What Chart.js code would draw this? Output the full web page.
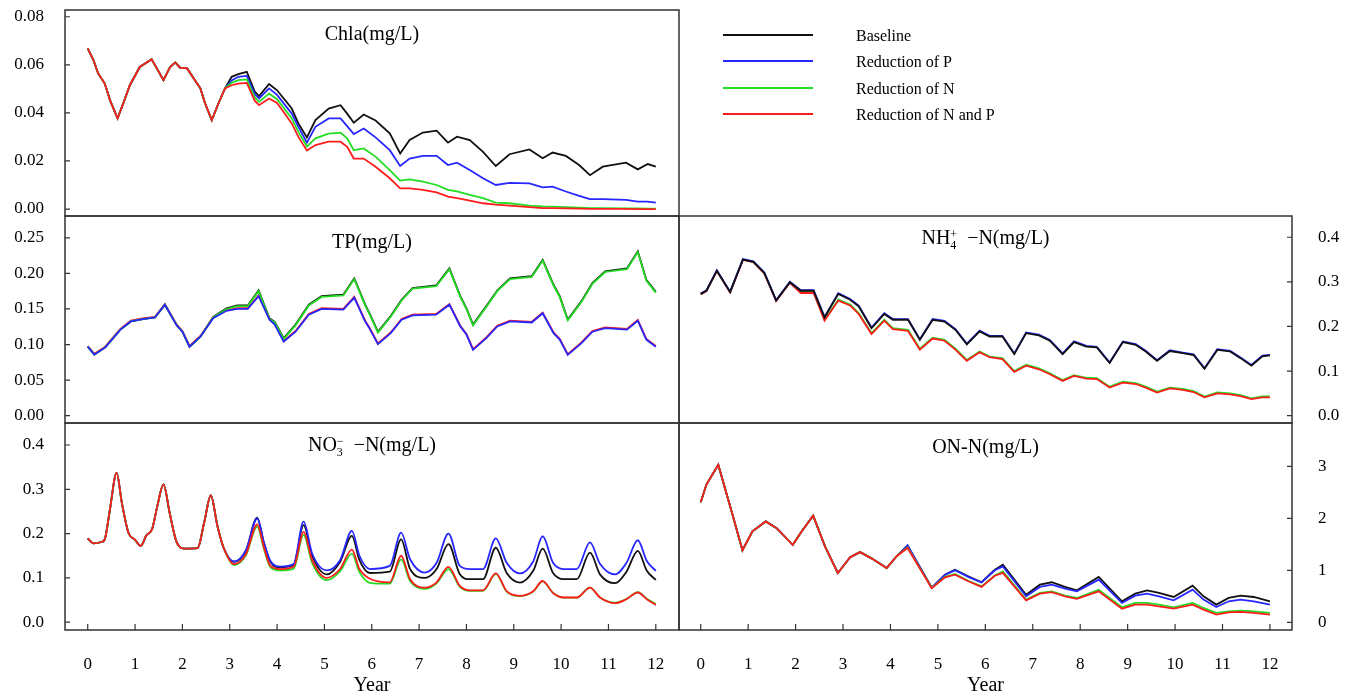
<!DOCTYPE html>
<html lang="en">
<head>
<meta charset="UTF-8">
<title>Nutrient reduction scenarios</title>
<script src="https://cdn.jsdelivr.net/npm/chart.js"></script>
<style>
    body { margin: 0; background: #fff; font-family: 'Liberation Serif', 'Times New Roman', serif; color: #000; }
    #wrap { position: relative; width: 1347px; height: 693px; overflow: hidden; }
    #wrap canvas { position: absolute; left: 0; top: 0; }
    .ttl { position: absolute; font-size: 20px; line-height: 24px; text-align: center; white-space: nowrap; }
    .stk { display: inline-block; vertical-align: -5px; line-height: 11px; font-size: 12px; text-align: left; }
    #legend { position: absolute; left: 723px; top: 24px; font-size: 16px; }
    #legend .row { position: relative; height: 26.3px; }
    #legend .ln { position: absolute; left: 0; top: 10px; width: 90px; height: 0; border-top: 2px solid; }
    #legend .tx { position: absolute; left: 133px; top: 2px; line-height: 20px; white-space: nowrap; }
</style>
</head>
<body>
<div id="wrap">
    <canvas id="cChla" width="1347" height="693"></canvas>
    <canvas id="cTp" width="1347" height="693"></canvas>
    <canvas id="cNh" width="1347" height="693"></canvas>
    <canvas id="cNo" width="1347" height="693"></canvas>
    <canvas id="cOn" width="1347" height="693"></canvas>
    <div class="ttl" style="left:65px;width:614px;top:21px">Chla(mg/L)</div>
    <div class="ttl" style="left:65px;width:614px;top:229px">TP(mg/L)</div>
    <div class="ttl" style="left:679px;width:613px;top:225px">NH<span class="stk">+<br>4</span>&nbsp; −N(mg/L)</div>
    <div class="ttl" style="left:65px;width:614px;top:432px">NO<span class="stk">−<br>3</span>&nbsp; −N(mg/L)</div>
    <div class="ttl" style="left:679px;width:613px;top:434px">ON-N(mg/L)</div>
    <div id="legend"></div>
</div>
<script>
    // scenarios
    const seriesNames = ['Baseline', 'Reduction of P', 'Reduction of N', 'Reduction of N and P'];
    const seriesColors = ['#111111', '#2626ff', '#22dd22', '#ff1c1c'];

    const yearTicks = [0, 1, 2, 3, 4, 5, 6, 7, 8, 9, 10, 11, 12];
    const yearLabels = ['0', '1', '2', '3', '4', '5', '6', '7', '8', '9', '10', '11', '12'];

    // Chla (mg/L)
    const chlaTicks = [0, 0.02, 0.04, 0.06, 0.08];
    const chlaTickLabels = ['0.00', '0.02', '0.04', '0.06', '0.08'];
    const chlaYears = [0, 0.12, 0.22, 0.36, 0.47, 0.63, 0.75, 0.89, 1.1, 1.35, 1.46, 1.6, 1.74, 1.85, 1.95, 2.1, 2.24, 2.38, 2.48, 2.62, 2.76, 2.9, 3.04, 3.18, 3.36, 3.53, 3.62, 3.83, 4.0, 4.31, 4.45, 4.63, 4.81, 5.09, 5.34, 5.48, 5.62, 5.83, 6.08, 6.38, 6.6, 6.8, 7.08, 7.37, 7.61, 7.8, 8.07, 8.35, 8.62, 8.91, 9.33, 9.61, 9.82, 10.1, 10.38, 10.61, 10.88, 11.37, 11.62, 11.83, 12.0];
    const chlaBaseline = [0.0668, 0.062, 0.0564, 0.0522, 0.0453, 0.0377, 0.0439, 0.0515, 0.0591, 0.0623, 0.0585, 0.0536, 0.0591, 0.061, 0.0588, 0.0585, 0.0543, 0.0502, 0.0439, 0.037, 0.0439, 0.0502, 0.055, 0.0561, 0.0571, 0.0488, 0.047, 0.052, 0.0494, 0.0418, 0.0356, 0.0298, 0.037, 0.0418, 0.0432, 0.0397, 0.0359, 0.0393, 0.0368, 0.0315, 0.0231, 0.0287, 0.0318, 0.0326, 0.0276, 0.0301, 0.0287, 0.0238, 0.0179, 0.0228, 0.0248, 0.0211, 0.0235, 0.0221, 0.0183, 0.0141, 0.0176, 0.0193, 0.0165, 0.0187, 0.0176];
    const chlaRedP = [0.0668, 0.062, 0.0564, 0.0522, 0.0453, 0.0377, 0.0439, 0.0515, 0.0591, 0.0623, 0.0585, 0.0536, 0.0591, 0.061, 0.0588, 0.0585, 0.0543, 0.0502, 0.0439, 0.037, 0.0439, 0.0502, 0.0535, 0.055, 0.0554, 0.0478, 0.046, 0.0502, 0.0475, 0.0397, 0.0342, 0.0276, 0.0342, 0.0377, 0.0377, 0.0345, 0.0312, 0.0335, 0.0298, 0.0245, 0.0179, 0.021, 0.0221, 0.0221, 0.0183, 0.0193, 0.0162, 0.0128, 0.01, 0.0109, 0.0107, 0.009, 0.0093, 0.0073, 0.0055, 0.0041, 0.0041, 0.0038, 0.0031, 0.0031, 0.0027];
    const chlaRedN = [0.0668, 0.062, 0.0564, 0.0522, 0.0453, 0.0377, 0.0439, 0.0515, 0.0591, 0.0623, 0.0585, 0.0536, 0.0591, 0.061, 0.0588, 0.0585, 0.0543, 0.0502, 0.0439, 0.037, 0.0439, 0.0502, 0.0525, 0.0536, 0.0539, 0.0464, 0.0446, 0.048, 0.0457, 0.0377, 0.0321, 0.026, 0.0294, 0.0314, 0.0318, 0.0294, 0.0245, 0.0252, 0.0218, 0.0162, 0.0118, 0.0123, 0.0114, 0.01, 0.008, 0.0073, 0.0059, 0.0045, 0.0027, 0.0024, 0.0014, 0.0011, 0.001, 0.0008, 0.0006, 0.0004, 0.0004, 0.0003, 0.0003, 0.0002, 0.0002];
    const chlaRedNP = [0.0668, 0.062, 0.0564, 0.0522, 0.0453, 0.0377, 0.0439, 0.0515, 0.0591, 0.0623, 0.0585, 0.0536, 0.0591, 0.061, 0.0588, 0.0585, 0.0543, 0.0502, 0.0439, 0.037, 0.0439, 0.0502, 0.0515, 0.0522, 0.0525, 0.045, 0.0432, 0.046, 0.0441, 0.0356, 0.03, 0.0243, 0.0266, 0.028, 0.028, 0.0259, 0.021, 0.021, 0.0176, 0.0128, 0.0086, 0.0086, 0.008, 0.0069, 0.0052, 0.0045, 0.0035, 0.0024, 0.0018, 0.0014, 0.0008, 0.0004, 0.0004, 0.0003, 0.0002, 0.0001, 0.0001, 0.0001, 0, 0, 0];

    // TP (mg/L)
    const tpTicks = [0, 0.05, 0.10, 0.15, 0.20, 0.25];
    const tpTickLabels = ['0.00', '0.05', '0.10', '0.15', '0.20', '0.25'];
    const tpYears = [0, 0.14, 0.37, 0.69, 0.91, 1.19, 1.42, 1.63, 1.88, 2.0, 2.15, 2.38, 2.65, 2.93, 3.16, 3.38, 3.61, 3.84, 3.95, 4.14, 4.39, 4.67, 4.94, 5.4, 5.63, 5.86, 5.95, 6.13, 6.4, 6.63, 6.86, 7.36, 7.64, 7.87, 8.0, 8.14, 8.42, 8.65, 8.92, 9.38, 9.61, 9.84, 9.97, 10.14, 10.43, 10.66, 10.93, 11.39, 11.62, 11.8, 12.0];
    const tpBaseline = [0.097, 0.086, 0.096, 0.121, 0.1325, 0.136, 0.138, 0.156, 0.127, 0.118, 0.097, 0.111, 0.139, 0.151, 0.155, 0.155, 0.176, 0.137, 0.132, 0.109, 0.128, 0.156, 0.168, 0.170, 0.193, 0.156, 0.144, 0.118, 0.140, 0.163, 0.1795, 0.183, 0.207, 0.168, 0.151, 0.128, 0.154, 0.176, 0.193, 0.196, 0.219, 0.184, 0.168, 0.135, 0.161, 0.1865, 0.203, 0.207, 0.231, 0.191, 0.174];
    const tpRedP = [0.097, 0.086, 0.096, 0.121, 0.1325, 0.136, 0.138, 0.156, 0.127, 0.118, 0.097, 0.111, 0.137, 0.1475, 0.150, 0.150, 0.168, 0.135, 0.128, 0.104, 0.118, 0.142, 0.150, 0.149, 0.166, 0.1325, 0.123, 0.1005, 0.116, 0.135, 0.141, 0.142, 0.156, 0.1255, 0.114, 0.0925, 0.109, 0.1255, 0.1325, 0.131, 0.144, 0.116, 0.107, 0.0855, 0.102, 0.118, 0.123, 0.121, 0.1335, 0.107, 0.097];
    const tpRedN = [0.097, 0.086, 0.096, 0.121, 0.1325, 0.136, 0.138, 0.156, 0.127, 0.118, 0.097, 0.111, 0.138, 0.150, 0.154, 0.154, 0.175, 0.136, 0.131, 0.108, 0.127, 0.155, 0.167, 0.169, 0.192, 0.155, 0.143, 0.117, 0.139, 0.162, 0.1785, 0.182, 0.206, 0.167, 0.150, 0.127, 0.153, 0.175, 0.192, 0.195, 0.218, 0.183, 0.167, 0.134, 0.160, 0.1855, 0.202, 0.206, 0.230, 0.190, 0.173];
    const tpRedNP = [0.098, 0.087, 0.097, 0.122, 0.1335, 0.137, 0.139, 0.157, 0.128, 0.119, 0.098, 0.112, 0.138, 0.1485, 0.151, 0.151, 0.169, 0.136, 0.129, 0.105, 0.119, 0.143, 0.151, 0.150, 0.167, 0.1335, 0.124, 0.1015, 0.117, 0.136, 0.142, 0.143, 0.157, 0.1265, 0.115, 0.0935, 0.110, 0.1265, 0.1335, 0.132, 0.145, 0.117, 0.108, 0.0865, 0.103, 0.119, 0.124, 0.122, 0.1345, 0.108, 0.098];

    // NH4+-N (mg/L)
    const nhTicks = [0, 0.1, 0.2, 0.3, 0.4];
    const nhTickLabels = ['0.0', '0.1', '0.2', '0.3', '0.4'];
    const nhYears = [0, 0.12, 0.34, 0.62, 0.89, 1.11, 1.34, 1.59, 1.88, 2.11, 2.38, 2.61, 2.9, 3.15, 3.33, 3.6, 3.87, 4.05, 4.37, 4.62, 4.89, 5.14, 5.37, 5.61, 5.88, 6.09, 6.36, 6.61, 6.86, 7.13, 7.36, 7.63, 7.87, 8.13, 8.35, 8.62, 8.9, 9.17, 9.38, 9.62, 9.89, 10.16, 10.39, 10.62, 10.89, 11.16, 11.38, 11.61, 11.84, 12.0];
    const nhBaseline = [0.273, 0.280, 0.325, 0.277, 0.350, 0.345, 0.320, 0.258, 0.299, 0.280, 0.280, 0.220, 0.273, 0.260, 0.245, 0.196, 0.228, 0.215, 0.215, 0.170, 0.215, 0.211, 0.1925, 0.160, 0.189, 0.1775, 0.1775, 0.138, 0.185, 0.180, 0.168, 0.138, 0.165, 0.155, 0.153, 0.118, 0.165, 0.159, 0.144, 0.123, 0.145, 0.140, 0.136, 0.105, 0.1475, 0.144, 0.129, 0.112, 0.133, 0.135];
    const nhRedP = [0.274, 0.281, 0.326, 0.278, 0.351, 0.346, 0.321, 0.259, 0.300, 0.2815, 0.2815, 0.2215, 0.2745, 0.2615, 0.2465, 0.1975, 0.2295, 0.2165, 0.2165, 0.1715, 0.2165, 0.2125, 0.194, 0.1615, 0.1905, 0.179, 0.179, 0.1395, 0.1865, 0.1815, 0.1695, 0.1395, 0.1665, 0.1565, 0.1545, 0.1195, 0.1665, 0.1605, 0.1455, 0.1245, 0.1465, 0.1415, 0.1375, 0.1065, 0.149, 0.1455, 0.1305, 0.1135, 0.1345, 0.1365];
    const nhRedN = [0.273, 0.280, 0.325, 0.277, 0.350, 0.345, 0.320, 0.258, 0.299, 0.277, 0.277, 0.215, 0.260, 0.249, 0.230, 0.185, 0.215, 0.196, 0.1925, 0.150, 0.175, 0.170, 0.150, 0.125, 0.144, 0.1326, 0.129, 0.100, 0.114, 0.106, 0.095, 0.080, 0.091, 0.085, 0.084, 0.065, 0.076, 0.073, 0.065, 0.054, 0.063, 0.060, 0.055, 0.043, 0.052, 0.050, 0.046, 0.039, 0.043, 0.043];
    const nhRedNP = [0.272, 0.279, 0.324, 0.276, 0.349, 0.344, 0.319, 0.257, 0.298, 0.275, 0.275, 0.213, 0.258, 0.247, 0.228, 0.183, 0.213, 0.194, 0.190, 0.148, 0.173, 0.168, 0.148, 0.123, 0.142, 0.131, 0.127, 0.098, 0.112, 0.104, 0.093, 0.078, 0.089, 0.083, 0.082, 0.063, 0.074, 0.071, 0.063, 0.052, 0.061, 0.058, 0.053, 0.041, 0.050, 0.048, 0.044, 0.037, 0.041, 0.041];

    // NO3--N (mg/L)
    const noTicks = [0, 0.1, 0.2, 0.3, 0.4];
    const noTickLabels = ['0.0', '0.1', '0.2', '0.3', '0.4'];
    const noYears = [0, 0.12, 0.29, 0.36, 0.47, 0.61, 0.72, 0.86, 1.0, 1.12, 1.24, 1.36, 1.47, 1.6, 1.73, 1.87, 2.04, 2.32, 2.46, 2.6, 2.74, 2.87, 3.09, 3.34, 3.58, 3.72, 3.86, 4.07, 4.35, 4.56, 4.74, 5.05, 5.33, 5.58, 5.74, 5.96, 6.38, 6.62, 6.81, 7.12, 7.37, 7.62, 7.86, 8.07, 8.35, 8.62, 8.85, 9.13, 9.41, 9.61, 9.83, 10.05, 10.33, 10.61, 10.82, 11.14, 11.38, 11.62, 11.81, 12.0];
    const noBaseline = [0.189, 0.178, 0.181, 0.187, 0.255, 0.337, 0.27, 0.202, 0.186, 0.172, 0.196, 0.21, 0.262, 0.311, 0.247, 0.183, 0.166, 0.167, 0.225, 0.286, 0.217, 0.168, 0.136, 0.161, 0.236, 0.18, 0.136, 0.124, 0.129, 0.219, 0.15, 0.108, 0.136, 0.195, 0.14, 0.111, 0.114, 0.187, 0.12, 0.10, 0.12, 0.176, 0.108, 0.097, 0.097, 0.168, 0.111, 0.0895, 0.116, 0.166, 0.111, 0.097, 0.097, 0.157, 0.108, 0.088, 0.114, 0.161, 0.116, 0.0955];
    const noRedP = [0.189, 0.178, 0.181, 0.187, 0.255, 0.337, 0.27, 0.202, 0.186, 0.172, 0.196, 0.21, 0.262, 0.311, 0.247, 0.183, 0.166, 0.167, 0.225, 0.286, 0.217, 0.168, 0.137, 0.162, 0.234, 0.181, 0.138, 0.1255, 0.131, 0.227, 0.155, 0.117, 0.14, 0.206, 0.15, 0.12, 0.127, 0.202, 0.142, 0.112, 0.134, 0.2, 0.127, 0.12, 0.12, 0.189, 0.134, 0.11, 0.137, 0.194, 0.134, 0.12, 0.12, 0.18, 0.132, 0.108, 0.134, 0.185, 0.138, 0.116];
    const noRedN = [0.189, 0.178, 0.181, 0.187, 0.255, 0.337, 0.27, 0.202, 0.186, 0.172, 0.196, 0.21, 0.262, 0.311, 0.247, 0.183, 0.166, 0.167, 0.225, 0.286, 0.217, 0.168, 0.129, 0.151, 0.216, 0.166, 0.124, 0.117, 0.121, 0.197, 0.134, 0.095, 0.115, 0.155, 0.113, 0.089, 0.087, 0.142, 0.093, 0.075, 0.088, 0.12, 0.08, 0.071, 0.071, 0.109, 0.069, 0.059, 0.069, 0.092, 0.066, 0.0555, 0.0555, 0.078, 0.056, 0.044, 0.052, 0.068, 0.053, 0.041];
    const noRedNP = [0.189, 0.178, 0.181, 0.187, 0.255, 0.337, 0.27, 0.202, 0.186, 0.172, 0.196, 0.21, 0.262, 0.311, 0.247, 0.183, 0.166, 0.167, 0.225, 0.286, 0.217, 0.168, 0.131, 0.153, 0.221, 0.17, 0.127, 0.12, 0.125, 0.204, 0.14, 0.10, 0.12, 0.164, 0.12, 0.098, 0.09, 0.15, 0.097, 0.078, 0.09, 0.125, 0.082, 0.072, 0.072, 0.11, 0.07, 0.0595, 0.07, 0.093, 0.066, 0.0557, 0.0557, 0.078, 0.0557, 0.043, 0.052, 0.067, 0.052, 0.039];

    // ON-N (mg/L)
    const onTicks = [0, 1, 2, 3];
    const onTickLabels = ['0', '1', '2', '3'];
    const onYears = [0, 0.12, 0.37, 0.62, 0.88, 1.09, 1.37, 1.6, 1.94, 2.13, 2.37, 2.62, 2.89, 3.15, 3.36, 3.6, 3.92, 4.13, 4.36, 4.87, 5.15, 5.36, 5.64, 5.92, 6.2, 6.37, 6.86, 7.15, 7.4, 7.68, 7.93, 8.39, 8.88, 9.16, 9.41, 9.66, 9.97, 10.37, 10.6, 10.87, 11.13, 11.38, 11.66, 12.0];
    const onBaseline = [2.31, 2.65, 3.03, 2.23, 1.385, 1.75, 1.94, 1.81, 1.49, 1.75, 2.05, 1.46, 0.948, 1.25, 1.35, 1.23, 1.044, 1.27, 1.48, 0.665, 0.915, 1.01, 0.885, 0.77, 1.01, 1.108, 0.53, 0.724, 0.77, 0.68, 0.615, 0.872, 0.404, 0.55, 0.615, 0.564, 0.487, 0.705, 0.5, 0.34, 0.468, 0.513, 0.487, 0.404];
    const onRedP = [2.31, 2.65, 3.03, 2.23, 1.385, 1.75, 1.94, 1.81, 1.49, 1.75, 2.05, 1.46, 0.948, 1.25, 1.35, 1.23, 1.044, 1.27, 1.48, 0.665, 0.915, 1.0, 0.875, 0.765, 1.0, 1.076, 0.5, 0.68, 0.724, 0.647, 0.596, 0.82, 0.372, 0.513, 0.55, 0.5, 0.423, 0.628, 0.436, 0.295, 0.404, 0.436, 0.404, 0.34];
    const onRedN = [2.31, 2.65, 3.03, 2.23, 1.385, 1.75, 1.94, 1.81, 1.49, 1.75, 2.05, 1.46, 0.948, 1.25, 1.35, 1.23, 1.044, 1.27, 1.44, 0.66, 0.875, 0.93, 0.8, 0.69, 0.9, 0.98, 0.436, 0.564, 0.596, 0.513, 0.468, 0.628, 0.288, 0.372, 0.372, 0.34, 0.288, 0.372, 0.276, 0.18, 0.212, 0.224, 0.212, 0.18];
    const onRedNP = [2.31, 2.65, 3.03, 2.23, 1.385, 1.75, 1.94, 1.81, 1.49, 1.75, 2.05, 1.46, 0.948, 1.25, 1.35, 1.23, 1.044, 1.27, 1.43, 0.655, 0.865, 0.917, 0.79, 0.68, 0.895, 0.95, 0.423, 0.55, 0.58, 0.5, 0.45, 0.596, 0.262, 0.34, 0.34, 0.308, 0.262, 0.34, 0.244, 0.147, 0.192, 0.199, 0.18, 0.147];

    const FONT = 'Liberation Serif';

    // box round the plot area plus inward tick marks
    const framePlugin = {
        id: 'frame',
        afterDraw(chart, args, opts) {
            const { ctx, chartArea: a, scales } = chart;
            ctx.save();
            ctx.strokeStyle = '#333';
            ctx.lineWidth = 1.5;
            ctx.strokeRect(a.left, a.top, a.right - a.left, a.bottom - a.top);
            ctx.lineWidth = 1.2;
            ctx.beginPath();
            scales.y.ticks.forEach(t => {
                const py = scales.y.getPixelForValue(t.value);
                if (opts.side === 'right') {
                    ctx.moveTo(a.right - 5, py); ctx.lineTo(a.right, py);
                } else {
                    ctx.moveTo(a.left, py); ctx.lineTo(a.left + 5, py);
                }
            });
            if (opts.xTicks) {
                scales.x.ticks.forEach(t => {
                    const px = scales.x.getPixelForValue(t.value);
                    ctx.moveTo(px, a.bottom); ctx.lineTo(px, a.bottom - 6);
                });
            }
            ctx.stroke();
            ctx.restore();
        }
    };

    // lower order = drawn on top
    const defaultOrder = [3, 2, 1, 0];

    function makePanel(id, p) {
        const left = p.side === 'left';
        const order = p.order || defaultOrder;
        const datasets = p.series.map((ys, i) => ({
            label: seriesNames[i],
            data: p.years.map((x, j) => ({ x: x, y: ys[j] })),
            borderColor: seriesColors[i],
            borderWidth: 1.8,
            pointRadius: 0,
            tension: 0,
            cubicInterpolationMode: p.smooth ? 'monotone' : 'default',
            order: order[i]
        }));
        return new Chart(document.getElementById(id), {
            type: 'line',
            data: { datasets: datasets },
            options: {
                responsive: false,
                animation: false,
                devicePixelRatio: 1,
                layout: { padding: p.pad },
                plugins: {
                    legend: { display: false },
                    tooltip: { enabled: false },
                    frame: { side: p.side, xTicks: p.showX }
                },
                scales: {
                    x: {
                        type: 'linear',
                        display: p.showX,
                        min: p.xMin,
                        max: p.xMax,
                        grid: { display: false, drawTicks: false },
                        border: { display: false },
                        afterBuildTicks: s => { s.ticks = yearTicks.map(v => ({ value: v })); },
                        afterFit: s => {
                            s.paddingLeft = 0; s.paddingRight = 0;
                            if (p.showX) s.height = 63;
                        },
                        ticks: {
                            autoSkip: false, maxRotation: 0, padding: 24, color: '#000',
                            font: { family: FONT, size: 17 },
                            callback: (v, i) => yearLabels[i]
                        },
                        title: { display: true, text: 'Year', color: '#000', padding: { top: 0, bottom: -5 }, font: { family: FONT, size: 20 } }
                    },
                    y: {
                        position: p.side,
                        min: p.yMin,
                        max: p.yMax,
                        grid: { display: false, drawTicks: false },
                        border: { display: false },
                        afterBuildTicks: s => { s.ticks = p.ticks.map(v => ({ value: v })); },
                        afterFit: s => {
                            s.width = left ? 65 : 55;
                            s.paddingTop = 0; s.paddingBottom = 0;
                        },
                        ticks: {
                            padding: left ? 21 : 26, color: '#000',
                            font: { family: FONT, size: 17 },
                            callback: (v, i) => p.tickLabels[i]
                        }
                    }
                }
            },
            plugins: [framePlugin]
        });
    }

    const leftX = { xMin: -0.48, xMax: 12.49 };
    const rightX = { xMin: -0.458, xMax: 12.465 };

    const chla = makePanel('cChla', Object.assign({
        side: 'left', showX: false, pad: { left: 0, top: 10, right: 668, bottom: 477 },
        yMin: -0.0029, yMax: 0.0828,
        ticks: chlaTicks, tickLabels: chlaTickLabels, years: chlaYears,
        series: [chlaBaseline, chlaRedP, chlaRedN, chlaRedNP]
    }, leftX));
    makePanel('cTp', Object.assign({
        side: 'left', showX: false, pad: { left: 0, top: 216, right: 668, bottom: 270 },
        yMin: -0.0103, yMax: 0.2807, order: [3, 0, 1, 2],
        ticks: tpTicks, tickLabels: tpTickLabels, years: tpYears,
        series: [tpBaseline, tpRedP, tpRedN, tpRedNP]
    }, leftX));
    makePanel('cNh', Object.assign({
        side: 'right', showX: false, pad: { left: 679, top: 216, right: 0, bottom: 270 },
        yMin: -0.0164, yMax: 0.4476, order: [0, 1, 3, 2],
        ticks: nhTicks, tickLabels: nhTickLabels, years: nhYears,
        series: [nhBaseline, nhRedP, nhRedN, nhRedNP]
    }, rightX));
    makePanel('cNo', Object.assign({
        side: 'left', showX: true, smooth: true, pad: { left: 0, top: 423, right: 668, bottom: 0 },
        yMin: -0.0176, yMax: 0.4496,
        ticks: noTicks, tickLabels: noTickLabels, years: noYears,
        series: [noBaseline, noRedP, noRedN, noRedNP]
    }, leftX));
    makePanel('cOn', Object.assign({
        side: 'right', showX: true, pad: { left: 679, top: 423, right: 0, bottom: 0 },
        yMin: -0.148, yMax: 3.833,
        ticks: onTicks, tickLabels: onTickLabels, years: onYears,
        series: [onBaseline, onRedP, onRedN, onRedNP]
    }, rightX));

    // legend from the Chla chart's datasets
    const legend = document.getElementById('legend');
    chla.data.datasets.forEach(ds => {
        const row = document.createElement('div');
        row.className = 'row';
        row.innerHTML = `<div class="ln" style="border-color:${ds.borderColor}"></div><div class="tx">${ds.label}</div>`;
        legend.appendChild(row);
    });
</script>
</body>
</html>
